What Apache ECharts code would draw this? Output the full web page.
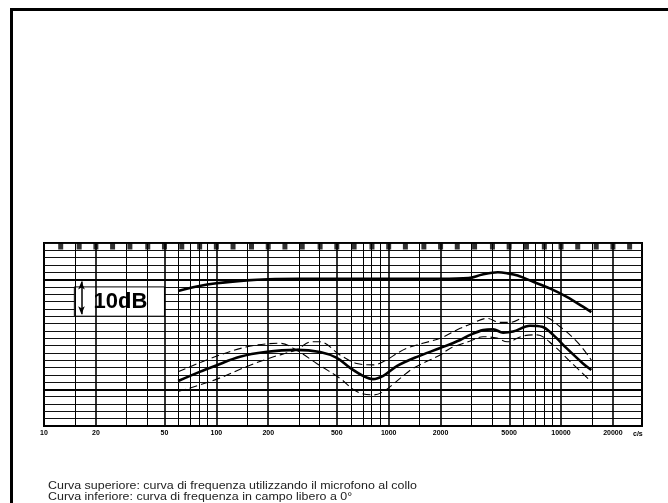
<!DOCTYPE html>
<html>
<head>
<meta charset="utf-8">
<style>
  html, body { margin: 0; padding: 0; background: #fff; }
  #chart { width: 668px; height: 503px; }
</style>
<script src="https://cdn.jsdelivr.net/npm/echarts@6/dist/echarts.min.js"></script>
</head>
<body>
<div id="chart"></div>
<script>
// Frequency response sheet: neck-worn vs. free-field (0°) response.
const FREQ_MIN = 10;
const FREQ_MAX = 29500;
const DB_MIN = 0;
const DB_MAX = 50;
const DB_STEP = 2;

// labelled frequencies along the bottom edge
const freqLabels = [10, 20, 50, 100, 200, 500, 1000, 2000, 5000, 10000, 20000];
// vertical grid lines of the log paper
const gridFreqs = [15, 20, 30, 40, 50, 60, 70, 80, 90, 100,
  150, 200, 300, 400, 500, 600, 700, 800, 900, 1000,
  1500, 2000, 3000, 4000, 5000, 6000, 7000, 8000, 9000, 10000,
  15000, 20000];
// heavier horizontal rules (dB)
const heavyDb = [10, 40];
// third-octave marks along the top edge
const thirdOctave = [12.5, 16, 20, 25, 31.5, 40, 50, 63, 80, 100, 125, 160, 200, 250,
  315, 400, 500, 630, 800, 1000, 1250, 1600, 2000, 2500, 3150, 4000, 5000, 6300,
  8000, 10000, 12500, 16000, 20000, 25000];

// upper curve: microphone worn at the neck
const upperFreq = [60, 77, 100, 150, 200, 300, 500, 1000, 2000, 2900, 3500, 4300, 4900, 5600, 6900, 8600, 10800, 13400, 15000];
const upperDb   = [36.9, 38.1, 39.0, 39.8, 40.1, 40.2, 40.2, 40.2, 40.2, 40.4, 41.4, 42.0, 41.7, 41.1, 39.4, 37.6, 35.3, 32.6, 31.1];

// lower curve: free field at 0°
const lowerFreq = [60, 80, 98, 137, 192, 290, 400, 500, 600, 710, 810, 930, 1120, 1460, 1990, 2600, 2970, 3530, 4040, 4610, 5270, 6620, 7770, 9000, 10800, 13400, 15000];
const lowerDb   = [12.3, 14.8, 16.4, 18.9, 20.2, 20.8, 20.2, 18.6, 15.8, 13.7, 12.8, 13.7, 16.4, 18.9, 21.3, 23.5, 24.9, 26.2, 26.4, 25.5, 25.8, 27.4, 27.1, 24.9, 21.2, 17.1, 15.3];

// tolerance band of the lower curve (the two dashed limits cross near 300 Hz)
const tolAFreq = [60, 98, 153, 234, 290, 382, 522, 653, 815, 931, 1164, 1390, 1990, 2270, 2970, 3530, 4260, 4870, 6020, 7260, 9000, 11300, 15000];
const tolADb   = [14.8, 18.9, 21.7, 22.6, 20.8, 17.1, 13.0, 9.4, 8.5, 9.4, 13.0, 15.8, 19.4, 21.2, 23.2, 24.4, 24.0, 23.0, 24.6, 24.9, 22.1, 17.6, 12.1];
const tolBFreq = [60, 98, 153, 205, 290, 358, 400, 522, 653, 815, 931, 1270, 1990, 2600, 2970, 3730, 4430, 5070, 6360, 7870, 9880, 12400, 15000];
const tolBDb   = [9.4, 12.6, 16.4, 18.6, 20.8, 23.0, 23.0, 19.4, 17.1, 16.7, 17.6, 21.2, 24.0, 26.7, 27.8, 29.4, 28.3, 28.3, 29.9, 29.9, 27.1, 23.0, 18.0];

// 10 dB scale reference box
const scaleBox = { f1: 15, f2: 50, db1: 30, db2: 38 };
const scaleArrow = { f: 16.5, db1: 30.5, db2: 39.5 };

const captionLines = [
  'Curva superiore: curva di frequenza utilizzando il microfono al collo',
  'Curva inferiore: curva di frequenza in campo libero a 0°'
];

const lg = Math.log10;
const pairs = (fs, ds) => fs.map((f, i) => [lg(f), ds[i]]);

const FONT = '"Liberation Sans", Arial, Helvetica, sans-serif';

const chart = echarts.init(document.getElementById('chart'), null, { renderer: 'canvas' });

const curveBase = { type: 'line', smooth: 0.35, symbol: 'none', silent: true };

chart.setOption({
  animation: false,
  backgroundColor: '#fff',
  grid: {
    left: 44, top: 243, width: 598, height: 183,
    show: true, borderColor: '#000', borderWidth: 2, backgroundColor: 'transparent'
  },
  xAxis: {
    type: 'value',
    min: lg(FREQ_MIN),
    max: lg(FREQ_MAX),
    axisLine: { show: true, lineStyle: { color: '#000', width: 2 } },
    axisTick: { show: false },
    splitLine: { show: false },
    axisLabel: {
      customValues: freqLabels.map(lg),
      formatter: v => String(Math.round(Math.pow(10, v))),
      fontSize: 7, fontWeight: 'bold', color: '#000', margin: 4,
      fontFamily: '"Liberation Sans Narrow", ' + FONT
    },
    name: 'c/s',
    nameLocation: 'end',
    nameGap: -9,
    nameTextStyle: { fontSize: 7, fontWeight: 'bold', color: '#000', verticalAlign: 'top', padding: [5, 0, 0, 0], fontFamily: FONT }
  },
  yAxis: {
    type: 'value',
    min: DB_MIN, max: DB_MAX, interval: DB_STEP,
    axisLine: { show: false },
    axisTick: { show: false },
    axisLabel: { show: false },
    splitLine: { show: true, lineStyle: { color: '#111', width: 1 } }
  },
  graphic: [
    // sheet frame
    { type: 'rect', left: 10, top: 8, shape: { width: 658, height: 3 }, style: { fill: '#000' }, silent: true },
    { type: 'rect', left: 10, top: 8, shape: { width: 3, height: 495 }, style: { fill: '#000' }, silent: true },
    {
      type: 'text', x: 48, y: 480, scaleX: 1.13, silent: true,
      style: { text: captionLines.join('\n'), font: '11px ' + FONT, fill: '#222', lineHeight: 11 }
    }
  ],
  series: [
    {
      // paper grid: vertical frequency lines and heavy dB rules
      type: 'line', data: [], z: 1, silent: true,
      markLine: {
        silent: true, symbol: 'none', label: { show: false },
        data: gridFreqs.map(f => ({
          xAxis: lg(f),
          lineStyle: { color: '#000', width: freqLabels.includes(f) ? 1.6 : 1, type: 'solid' }
        })).concat(heavyDb.map(d => ({
          yAxis: d, lineStyle: { color: '#000', width: 2.2, type: 'solid' }
        })))
      }
    },
    {
      // 10 dB reference box with arrow
      type: 'line', data: [], z: 2, silent: true,
      markArea: {
        silent: true,
        itemStyle: { color: '#fff', borderColor: '#000', borderWidth: 1 },
        label: { show: true, position: 'inside', offset: [1, 0], formatter: '10dB', fontSize: 22, fontWeight: 'bold', color: '#000', fontFamily: FONT },
        data: [[{ coord: [lg(scaleBox.f1), scaleBox.db2] }, { coord: [lg(scaleBox.f2), scaleBox.db1] }]]
      },
      markLine: {
        silent: true, symbol: ['arrow', 'arrow'], symbolSize: [5, 8],
        label: { show: false },
        lineStyle: { color: '#000', width: 1.5, type: 'solid' },
        data: [[{ coord: [lg(scaleArrow.f), scaleArrow.db1] }, { coord: [lg(scaleArrow.f), scaleArrow.db2] }]]
      }
    },
    { ...curveBase, z: 3, data: pairs(tolAFreq, tolADb), lineStyle: { color: '#000', width: 1.1, type: [8, 4] } },
    { ...curveBase, z: 3, data: pairs(tolBFreq, tolBDb), lineStyle: { color: '#000', width: 1.1, type: [8, 4] } },
    { ...curveBase, z: 4, data: pairs(lowerFreq, lowerDb), lineStyle: { color: '#000', width: 2.6 } },
    { ...curveBase, z: 4, data: pairs(upperFreq, upperDb), lineStyle: { color: '#000', width: 2.6 } },
    {
      // third-octave marks hanging from the top edge
      type: 'scatter', z: 5, silent: true,
      symbol: 'rect', symbolSize: [5, 7], symbolOffset: [0, 3],
      itemStyle: { color: '#000' },
      data: thirdOctave.map(f => [lg(f), DB_MAX])
    }
  ]
});
</script>
</body>
</html>
